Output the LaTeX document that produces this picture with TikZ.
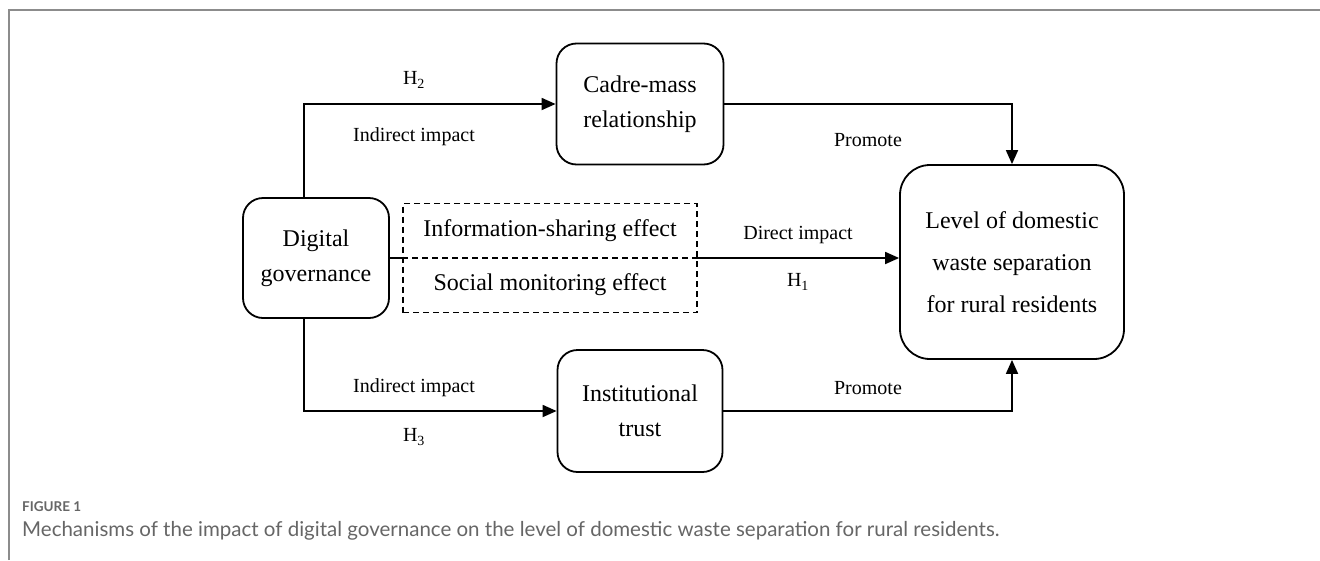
\documentclass[tikz,border=0pt]{standalone}
\usepackage{fontspec}
\setmainfont{Liberation Serif}
\newfontfamily\capfont{Lato}
\usetikzlibrary{arrows.meta}
\begin{document}
\begin{tikzpicture}[x=1pt,y=-1pt,
 box/.style={draw, line width=1.8pt, rounded corners=20pt, align=center, font=\fontsize{24}{35}\selectfont, inner sep=0pt},
 lbl/.style={font=\fontsize{20}{24}\selectfont, inner sep=0pt},
 conn/.style={line width=1.8pt},
 arr/.style={conn, -{Triangle[length=14pt,width=12pt]}},
 dbox/.style={draw, line width=1.4pt, dash pattern=on 6pt off 4pt, inner sep=0pt},
 dash line/.style={line width=1.4pt, dash pattern=on 6pt off 4pt},
 capt/.style={anchor=west, inner sep=0pt, text=black!60}]
\useasboundingbox (0,0) rectangle (1320,560);
\fill[white] (0,0) rectangle (1320,560);
\draw[black!45, line width=2pt] (9,560) -- (9,9.5) -- (1320,9.5);

\node[box, minimum width=146pt, minimum height=120pt] (dg) at (316,258) {Digital\\governance};
\node[box, minimum width=167pt, minimum height=121pt] (cm) at (640,104) {Cadre-mass\\relationship};
\node[box, minimum width=165pt, minimum height=122pt] (it) at (640,411) {Institutional\\trust};
\node[box, rounded corners=30pt, minimum width=224pt, minimum height=194pt, font=\fontsize{24}{42}\selectfont] (lv) at (1012,262) {Level of domestic\\waste separation\\for rural residents};
\node[dbox, minimum width=294pt, minimum height=109pt] (ds) at (550,258) {};
\node[font=\fontsize{24}{28}\selectfont, inner sep=0pt] (t1) at (550,231) {Information-sharing effect};
\node[font=\fontsize{24}{28}\selectfont, inner sep=0pt] (t2) at (550,285) {Social monitoring effect};
\draw[dash line] (ds.west) -- (ds.east);

\path (dg.north) ++(-12,0) coordinate (dgt);
\path (dg.south) ++(-12,0) coordinate (dgb);
\draw[arr] (dgt) |- (cm.west);
\draw[arr] (dgb) |- (it.west);
\draw[conn] (dg.east) -- (ds.west);
\draw[arr] (ds.east) -- (ds.east -| lv.west);
\draw[arr] (cm.east) -| (lv.north);
\draw[arr] (it.east) -| (lv.south);

\node[lbl] (h2) at (414,80) {H\textsubscript{2}};
\node[lbl] (i2) at (414,137) {Indirect impact};
\node[lbl] (p1) at (868,140) {Promote};
\node[lbl] (di) at (798,235) {Direct impact};
\node[lbl] (h1) at (798,282) {H\textsubscript{1}};
\node[lbl] (i3) at (414,388) {Indirect impact};
\node[lbl] (h3) at (414,437) {H\textsubscript{3}};
\node[lbl] (p2) at (868,388) {Promote};

\node[capt, font=\capfont\bfseries\fontsize{13.5}{15}\selectfont] (fig) at (22,507) {FIGURE 1};
\node[capt, font=\capfont\fontsize{20.5}{24}\selectfont] (cap) at (22,531) {Mechanisms of the impact of digital governance on the level of domestic waste separation for rural residents.};
\end{tikzpicture}
\end{document}
